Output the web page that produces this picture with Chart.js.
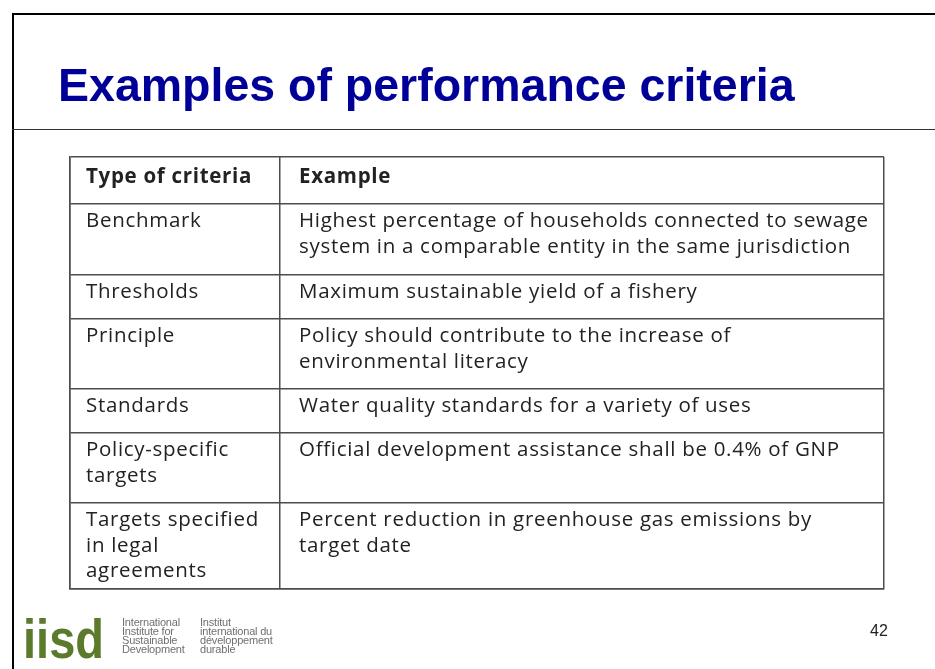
<!DOCTYPE html>
<html>
<head>
<meta charset="utf-8">
<script src="https://cdn.jsdelivr.net/npm/chart.js@4"></script>
<style>
  html, body { margin: 0; padding: 0; background: #fff; overflow: hidden; }
  #wrap { position: relative; width: 935px; height: 669px; }
  #c { position: absolute; left: 0; top: 0; }
  .frame { position: absolute; background: #000; }
  h1 { position: absolute; left: 58px; top: 57px; margin: 0; font: bold 46.5px "Liberation Sans", Arial, sans-serif;
       color: #000099; line-height: 56px; white-space: nowrap; }
  .logo { position: absolute; left: 23px; top: 609px; font: bold 56px "Liberation Sans", Arial, sans-serif;
          color: #5b7a2c; transform: scaleX(0.84); transform-origin: left top; line-height: 60px; }
  .small { position: absolute; top: 618px; font: 11px "Liberation Sans", Arial, sans-serif; color: #707070;
           line-height: 9px; letter-spacing: -0.2px; }
  .page { position: absolute; left: 870px; top: 622px; font: 16px "Liberation Sans", Arial, sans-serif; color: #222;
          line-height: 18px; }
</style>
</head>
<body>
<div id="wrap">
  <canvas id="c" width="935" height="669"></canvas>
  <div class="frame" style="left:12px;top:13px;width:923px;height:2px"></div>
  <div class="frame" style="left:12px;top:13px;width:2px;height:656px"></div>
  <div class="frame" style="left:12px;top:129px;width:923px;height:1px;background:#333"></div>
  <h1>Examples of performance criteria</h1>
  <div class="logo">iisd</div>
  <div class="small" style="left:122px">International<br>Institute for<br>Sustainable<br>Development</div>
  <div class="small" style="left:200px">Institut<br>international du<br>développement<br>durable</div>
  <div class="page">42</div>
</div>
<script>
// Zawartość tabeli: nagłówki, typy kryteriów i przykłady (po liniach jak w oryginale).
const HEADERS = ["Type of criteria", "Example"];
const CRITERIA = [
  ["Benchmark"],
  ["Thresholds"],
  ["Principle"],
  ["Standards"],
  ["Policy-specific", "targets"],
  ["Targets specified", "in legal", "agreements"],
];
const EXAMPLES = [
  ["Highest percentage of households connected to sewage", "system in a comparable entity in the same jurisdiction"],
  ["Maximum sustainable yield of a fishery"],
  ["Policy should contribute to the increase of", "environmental literacy"],
  ["Water quality standards for a variety of uses"],
  ["Official development assistance shall be 0.4% of GNP"],
  ["Percent reduction in greenhouse gas emissions by", "target date"],
];

// Układ tabeli w jednostkach osi (nie dane): krawędzie kolumn i wierszy.
const COL_EDGES = [0, 210, 814];
const ROW_EDGES = [0, 47, 118, 162, 232, 276, 346, 432];
const TXT = { padX: [16, 19], headBase: 26, bodyBase: 23, lineH: 25.5, spacing: "0.7px",
  font: '20.5px "Open Sans", sans-serif', bold: 'bold 20.5px "Open Sans", sans-serif', color: "#222" };

const gridOf = edges => axis => { axis.ticks = edges.map(v => ({ value: v })); };

// Tekst komórek rysujemy przez skale wykresu, więc siedzi dokładnie w siatce.
const cellText = {
  id: "cellText",
  afterDraw(chart) {
    const { ctx, scales: { x, y } } = chart;
    ctx.save();
    ctx.fillStyle = TXT.color;
    ctx.textBaseline = "alphabetic";
    ctx.letterSpacing = TXT.spacing;
    const put = (lines, col, row, base) => lines.forEach((s, k) =>
      ctx.fillText(s, x.getPixelForValue(COL_EDGES[col]) + TXT.padX[col],
        y.getPixelForValue(ROW_EDGES[row]) + base + k * TXT.lineH));
    ctx.font = TXT.bold;
    HEADERS.forEach((h, c) => put([h], c, 0, TXT.headBase));
    ctx.font = TXT.font;
    CRITERIA.forEach((lines, r) => put(lines, 0, r + 1, TXT.bodyBase));
    EXAMPLES.forEach((lines, r) => put(lines, 1, r + 1, TXT.bodyBase));
    ctx.restore();
  },
};

const line = { color: "#4d4d4d", lineWidth: 1.5, drawTicks: false };
new Chart(document.getElementById("c"), {
  type: "scatter",
  data: { datasets: [{ data: [] }] },
  options: {
    responsive: false, animation: false, events: [],
    layout: { padding: { left: 70, top: 157, right: 51, bottom: 80 } },
    plugins: { legend: { display: false }, tooltip: { enabled: false } },
    scales: {
      x: { type: "linear", min: 0, max: 814, afterBuildTicks: gridOf(COL_EDGES),
           ticks: { display: false }, grid: line, border: { color: "#4d4d4d", width: 1.5 } },
      y: { type: "linear", min: 0, max: 432, reverse: true, afterBuildTicks: gridOf(ROW_EDGES),
           ticks: { display: false }, grid: line, border: { color: "#4d4d4d", width: 1.5 } },
    },
  },
  plugins: [cellText],
});
</script>
</body>
</html>
